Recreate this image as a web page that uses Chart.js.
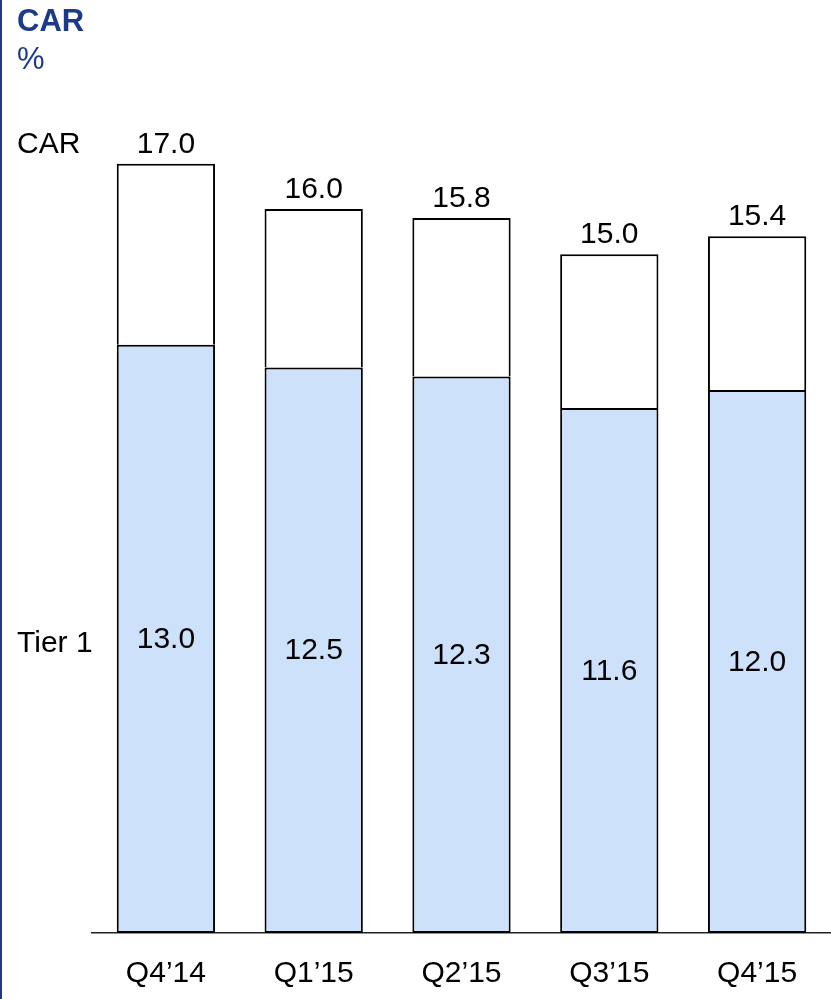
<!DOCTYPE html>
<html>
<head>
<meta charset="utf-8">
<script src="https://cdn.jsdelivr.net/npm/chart.js@4"></script>
<style>
  body { margin: 0; background: #fff; font-family: "Liberation Sans", Arial, sans-serif; }
  #wrap { position: relative; width: 831px; height: 999px; overflow: hidden; }
  #edge { position: absolute; left: 0; top: 0; width: 2px; height: 999px; background: #1b3a8c; }
  .t { position: absolute; left: 17px; line-height: 30px; white-space: nowrap; }
  .title { color: #1b3a8c; font-size: 31px; }
  .side { font-size: 30px; color: #000; line-height: 30px; }
  canvas { position: absolute; left: 0; top: 0; }
</style>
</head>
<body>
<div id="wrap">
  <canvas id="carChart" width="831" height="999"></canvas>
  <div id="edge"></div>
  <div class="t title" style="top:6px;font-weight:bold;">CAR</div>
  <div class="t title" style="top:44px;">%</div>
  <div class="t side" style="top:128px;">CAR</div>
  <div class="t side" style="top:627px;">Tier 1</div>
</div>
<script>
// дані
const quarters = ["Q4’14", "Q1’15", "Q2’15", "Q3’15", "Q4’15"];
const tier1 = [13.0, 12.5, 12.3, 11.6, 12.0];
const car = [17.0, 16.0, 15.8, 15.0, 15.4];

// верхня частина стовпця = CAR мінус Tier 1
const rest = car.map((v, i) => +(v - tier1[i]).toFixed(1));

const labelFont = '30px "Liberation Sans", Arial, sans-serif';

// підписи значень на стовпцях
const valueLabels = {
  id: "valueLabels",
  afterDatasetsDraw(chart) {
    const ctx = chart.ctx;
    const low = chart.getDatasetMeta(0).data;
    const top = chart.getDatasetMeta(1).data;
    ctx.save();
    ctx.font = labelFont;
    ctx.fillStyle = "#000";
    ctx.textAlign = "center";
    low.forEach((bar, i) => {
      ctx.textBaseline = "middle";
      ctx.fillText(tier1[i].toFixed(1), bar.x, (bar.y + bar.base) / 2 + 1);
      ctx.textBaseline = "alphabetic";
      ctx.fillText(car[i].toFixed(1), top[i].x, top[i].y - 11);
    });
    ctx.restore();
  }
};

const config = {
  type: "bar",
  data: {
    labels: quarters,
    datasets: [
      {
        label: "Tier 1",
        data: tier1,
        backgroundColor: "#cde1fb",
        borderColor: "#000",
        borderWidth: 2,
        borderSkipped: false,
        categoryPercentage: 1,
        barPercentage: 0.665
      },
      {
        label: "CAR",
        data: rest,
        backgroundColor: "#fff",
        borderColor: "#000",
        borderWidth: 2,
        borderSkipped: "start",
        categoryPercentage: 1,
        barPercentage: 0.665
      }
    ]
  },
  options: {
    responsive: false,
    animation: false,
    layout: { padding: { left: 92, top: 28, right: 0, bottom: 0 } },
    plugins: {
      legend: { display: false },
      tooltip: { enabled: false }
    },
    scales: {
      x: {
        stacked: true,
        grid: { display: false },
        border: { display: true, color: "#222", width: 1.5 },
        ticks: {
          color: "#000",
          font: { size: 30, family: '"Liberation Sans", Arial, sans-serif' },
          padding: 15
        },
        afterFit(axis) { axis.height = 66; }
      },
      y: {
        stacked: true,
        display: false,
        min: 0,
        max: 20
      }
    }
  },
  plugins: [valueLabels]
};

const ctx = document.getElementById("carChart").getContext("2d");
const carChart = new Chart(ctx, config);
</script>
</body>
</html>
